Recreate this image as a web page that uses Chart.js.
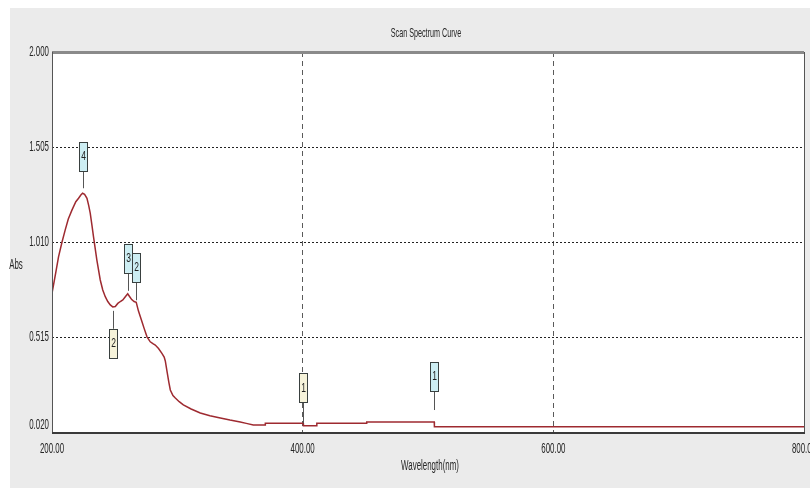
<!DOCTYPE html>
<html>
<head>
<meta charset="utf-8">
<script src="https://cdn.jsdelivr.net/npm/chart.js@4.4.1/dist/chart.umd.min.js"></script>
<style>
  html, body { margin: 0; padding: 0; background: #ffffff; }
  canvas { display: block; }
</style>
</head>
<body>
<canvas id="spectrum" width="810" height="488"></canvas>
<script>
// Scan spectrum: wavelength (nm) vs absorbance
const wavelengths = [
  200, 203, 205.2, 208, 210.5, 213, 215.9, 219, 221.2, 223, 224.4, 226, 227.9, 229.3,
  230.5, 231.8, 233.1, 235.8, 238.5, 240.5, 242.5, 244.5, 246.5, 248.5, 250.5, 252.5,
  254.5, 256.5, 258.5, 260.4, 262, 263.6, 265.5, 267.2, 269, 271.8, 273.5, 275.8,
  278.4, 280.5, 282.4, 285, 287.7, 289.5, 290.4, 292, 293.2, 294.4, 296.5, 298.4,
  301.5, 304.8, 311, 318.3, 326, 334.3, 342, 350.2, 355, 360.6, 370, 370.2, 400.5,
  400.6, 411.2, 411.3, 451, 451.1, 505, 505.1, 800
];
const absorbance = [
  0.743, 0.850, 0.933, 1.010, 1.072, 1.130, 1.176, 1.220, 1.238, 1.255, 1.264, 1.258, 1.238, 1.200,
  1.160, 1.100, 1.038, 0.916, 0.812, 0.760, 0.725, 0.700, 0.682, 0.672, 0.674, 0.690,
  0.700, 0.708, 0.725, 0.740, 0.725, 0.710, 0.700, 0.696, 0.650, 0.594, 0.560, 0.516,
  0.490, 0.480, 0.473, 0.455, 0.430, 0.410, 0.390, 0.327, 0.280, 0.239, 0.210, 0.197,
  0.178, 0.161, 0.140, 0.119, 0.105, 0.093, 0.082, 0.072, 0.065, 0.056, 0.056, 0.065, 0.065,
  0.053, 0.053, 0.065, 0.065, 0.072, 0.072, 0.047, 0.047
];

const xTickValues = [200, 400, 600, 800];
const yTickValues = [0.020, 0.515, 1.010, 1.505, 2.000];

// Peak / valley markers
const markerLabels = ['4', '3', '2', '1', '2', '1'];
const markerWavelengths = [224.4, 260.4, 267.2, 505, 248.5, 400.5];
const markerAbsorbance = [1.264, 0.740, 0.696, 0.072, 0.672, 0.065];
const markerKinds = ['peak', 'peak', 'peak', 'peak', 'valley', 'valley'];

const FONT = "'Liberation Sans', Arial, sans-serif";

// stem layout per marker
const markerLayout = [
  { stem: 22, gap: 5, side: 'above' },
  { stem: 21, gap: 3, side: 'above' },
  { stem: 20, gap: 2, side: 'above' },
  { stem: 31, gap: 12, side: 'above' },
  { stem: 22, gap: 4, side: 'below' },
  { stem: 21, gap: 0, side: 'above' }
];

// narrow, tall lettering
function drawNarrowText(ctx, text, x, y, align, size) {
  ctx.save();
  ctx.translate(x, y);
  ctx.scale(0.72, 1.28);
  ctx.font = size + 'px ' + FONT;
  ctx.fillStyle = '#262626';
  ctx.textAlign = align;
  ctx.textBaseline = 'middle';
  ctx.fillText(text, 0, 0);
  ctx.restore();
}

const panelPlugin = {
  id: 'panel',
  beforeDraw(chart) {
    const { ctx, chartArea: a, width, height } = chart;
    ctx.save();
    ctx.fillStyle = '#ffffff';
    ctx.fillRect(0, 0, width, height);
    ctx.fillStyle = '#ebebeb';
    ctx.fillRect(10, 8, width - 10, height - 8);
    ctx.fillStyle = '#ffffff';
    ctx.fillRect(a.left, a.top, a.right - a.left, a.bottom - a.top);
    ctx.restore();
  },
  afterDatasetsDraw(chart) {
    const { ctx, chartArea: a, scales } = chart;
    ctx.save();
    // plot frame
    ctx.strokeStyle = '#8a8a8a';
    ctx.lineWidth = 3;
    ctx.beginPath(); ctx.moveTo(a.left, a.top + 0.5); ctx.lineTo(a.right, a.top + 0.5); ctx.stroke();
    ctx.strokeStyle = '#555';
    ctx.lineWidth = 1;
    ctx.beginPath(); ctx.moveTo(a.right + 0.5, a.top); ctx.lineTo(a.right + 0.5, a.bottom); ctx.stroke();
    ctx.beginPath(); ctx.moveTo(a.left + 0.5, a.top); ctx.lineTo(a.left + 0.5, a.bottom); ctx.stroke();
    ctx.strokeStyle = '#3a3a3a';
    ctx.lineWidth = 2;
    ctx.beginPath(); ctx.moveTo(a.left, a.bottom + 1); ctx.lineTo(a.right + 1, a.bottom + 1); ctx.stroke();

    // markers
    const bw = 8, bh = 29;
    markerLabels.forEach((label, i) => {
      const px = Math.round(scales.x.getPixelForValue(markerWavelengths[i])) + 0.5;
      const py = scales.y.getPixelForValue(markerAbsorbance[i]);
      const lay = markerLayout[i];
      let boxTop, s0, s1;
      if (lay.side === 'above') {
        s0 = py - lay.gap; s1 = py - lay.stem; boxTop = s1 - bh;
      } else {
        s0 = py + lay.gap; s1 = py + lay.stem; boxTop = s1;
      }
      ctx.strokeStyle = '#555';
      ctx.lineWidth = 1;
      ctx.beginPath(); ctx.moveTo(px, s0); ctx.lineTo(px, s1); ctx.stroke();
      ctx.fillStyle = markerKinds[i] === 'peak' ? '#cdeef3' : '#f6f3da';
      ctx.fillRect(px - bw / 2, boxTop, bw, bh);
      ctx.strokeStyle = '#39403f';
      ctx.strokeRect(px - bw / 2, Math.round(boxTop) + 0.5, bw, bh);
      ctx.save();
      ctx.translate(px, boxTop + bh / 2);
      ctx.scale(0.85, 1.35);
      ctx.fillStyle = '#222';
      ctx.font = '10px ' + FONT;
      ctx.textAlign = 'center';
      ctx.textBaseline = 'middle';
      ctx.fillText(label, 0, 0);
      ctx.restore();
    });
    ctx.restore();
  },
  afterDraw(chart) {
    const { ctx, chartArea: a, scales } = chart;
    // tick labels taken from the library's axes
    scales.x.ticks.forEach(t => {
      drawNarrowText(ctx, t.label, scales.x.getPixelForValue(t.value), a.bottom + 17, 'center', 11);
    });
    scales.y.ticks.forEach(t => {
      const py = Math.min(scales.y.getPixelForValue(t.value), a.bottom - 7);
      drawNarrowText(ctx, t.label, a.left - 3, py, 'right', 11);
    });
    drawNarrowText(ctx, 'Scan Spectrum Curve', 426, 33, 'center', 10);
    drawNarrowText(ctx, 'Wavelength(nm)', (a.left + a.right) / 2 + 2, 466, 'center', 11);
    drawNarrowText(ctx, 'Abs', 16, 265, 'center', 11);
  }
};

new Chart(document.getElementById('spectrum'), {
  type: 'line',
  data: {
    datasets: [{
      data: wavelengths.map((w, i) => ({ x: w, y: absorbance[i] })),
      borderColor: '#9e2a30',
      borderWidth: 1.5,
      pointRadius: 0,
      tension: 0,
      fill: false
    }]
  },
  options: {
    responsive: false,
    devicePixelRatio: 1,
    animation: false,
    events: [],
    layout: { padding: { top: 52, right: 6, left: 0, bottom: 0 } },
    plugins: { legend: { display: false }, title: { display: false }, tooltip: { enabled: false } },
    scales: {
      x: {
        type: 'linear',
        min: 200,
        max: 800,
        afterBuildTicks: s => { s.ticks = xTickValues.map(v => ({ value: v })); },
        afterFit: s => { s.height = 56; s.paddingLeft = 0; s.paddingRight = 0; },
        grid: {
          drawTicks: false,
          lineWidth: 1,
          color: c => (c.tick && c.tick.value > 200 && c.tick.value < 800) ? '#5a5a5a' : 'rgba(0,0,0,0)'
        },
        border: { display: false, dash: [5, 4] },
        ticks: {
          padding: 10,
          color: 'rgba(0,0,0,0)',
          maxRotation: 0,
          autoSkip: false,
          font: { family: FONT, size: 11 },
          callback: v => Number(v).toFixed(2)
        }
      },
      y: {
        type: 'linear',
        min: 0.02,
        max: 2.0,
        afterBuildTicks: s => { s.ticks = yTickValues.map(v => ({ value: v })); },
        afterFit: s => { s.width = 52; s.paddingTop = 0; s.paddingBottom = 0; },
        grid: {
          drawTicks: false,
          lineWidth: 1,
          color: c => (c.tick && c.tick.value > 0.03 && c.tick.value < 1.99) ? '#222' : 'rgba(0,0,0,0)'
        },
        border: { display: false, dash: [2, 2] },
        ticks: {
          padding: 4,
          color: 'rgba(0,0,0,0)',
          font: { family: FONT, size: 11 },
          callback: v => Number(v).toFixed(3)
        }
      }
    }
  },
  plugins: [panelPlugin]
});
</script>
</body>
</html>
